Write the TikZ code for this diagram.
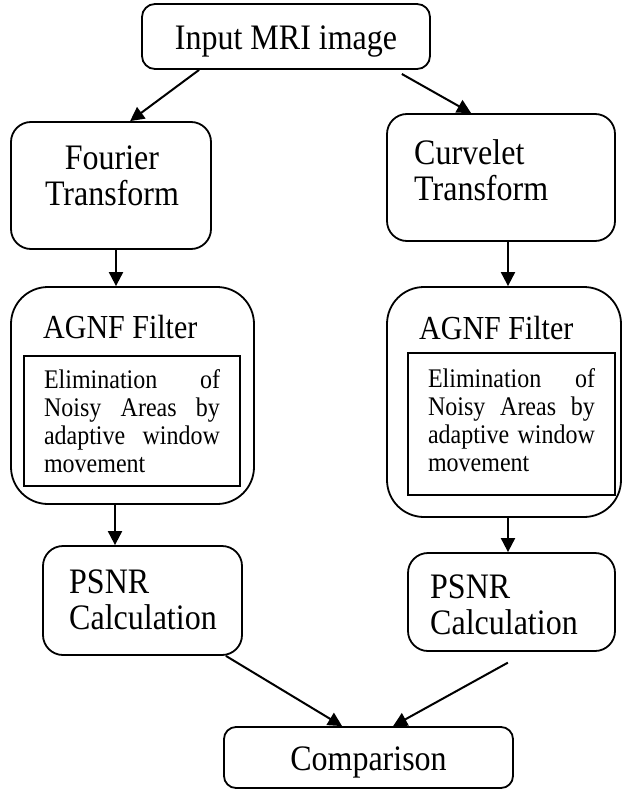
\documentclass[tikz,border=0pt]{standalone}
\usepackage{fontspec}
\setmainfont{Liberation Serif}
\usetikzlibrary{arrows.meta}

\begin{document}
\begin{tikzpicture}[x=1pt,y=1pt,yscale=-1,xscale=1,
  box/.style={draw,line width=1.8pt,rounded corners=#1,inner sep=0pt},
  arr/.style={line width=2pt,-{Triangle[length=14pt,width=14pt]}},
  bigfont/.style={font=\fontsize{32}{32.5}\selectfont},
  lbl/.style={inner sep=0pt,align=left,bigfont,yscale=1.12},
  txt/.style={draw,line width=1.8pt,inner sep=0pt,font=\fontsize{24}{25}\selectfont}]
\useasboundingbox (0,0) rectangle (622,789);

%Shape: Rounded Rect
\node[box=13pt,minimum width=288pt,minimum height=65pt,text height=30pt,text depth=4pt,bigfont] (input) at (286,36.5) {\scalebox{1}[1.12]{Input MRI image}};
%Shape: Rounded Rect
\node[box=20pt,minimum width=200pt,minimum height=127pt] (fourier) at (111,185.5) {};
%Shape: Rounded Rect
\node[box=20pt,minimum width=228pt,minimum height=127pt] (curvelet) at (501,177.5) {};
%Shape: Rounded Rect
\node[box=37pt,minimum width=243pt,minimum height=217pt] (agnfL) at (132.5,395.5) {};
%Shape: Rounded Rect
\node[box=37pt,minimum width=234pt,minimum height=230pt] (agnfR) at (504,402) {};
%Shape: Rounded Rect
\node[box=20pt,minimum width=199pt,minimum height=109pt] (psnrL) at (142.5,600.5) {};
%Shape: Rounded Rect
\node[box=20pt,minimum width=207pt,minimum height=98pt] (psnrR) at (511.5,602) {};
%Shape: Rounded Rect
\node[box=12pt,minimum width=289pt,minimum height=61pt,text height=30pt,text depth=4pt,bigfont] (comp) at (368.5,757.5) {\scalebox{1}[1.12]{Comparison}};

%Shape: Rectangle
\node[txt,minimum width=216pt,minimum height=130pt] (innerL) at (132,421) {\scalebox{1}[1.12]{\parbox{176pt}{\hyphenpenalty=10000
  Elimination of\linebreak Noisy Areas by\linebreak adaptive window\linebreak movement}}};
%Shape: Rectangle
\node[txt,minimum width=207pt,minimum height=142pt] (innerR) at (511.5,424) {\scalebox{1}[1.12]{\parbox{167pt}{\hyphenpenalty=10000
  Elimination of\linebreak Noisy Areas by\linebreak adaptive window\linebreak movement\par\vspace{7pt}}}};

% Text Node
\node[lbl,align=center,anchor=north] (fourierTxt) at (112,145.4) {Fourier\\Transform};
% Text Node
\node[lbl,anchor=north west] (curveletTxt) at (414,139.4) {Curvelet\\Transform};
% Text Node
\node[lbl,anchor=north west,font=\fontsize{30}{32}\selectfont] (agnfLTxt) at (43,315) {AGNF Filter};
% Text Node
\node[lbl,anchor=north west,font=\fontsize{30}{32}\selectfont] (agnfRTxt) at (419,316) {AGNF Filter};
% Text Node
\node[lbl,anchor=north west] (psnrLTxt) at (69,569.4) {PSNR\\Calculation};
% Text Node
\node[lbl,anchor=north west] (psnrRTxt) at (430,574.4) {PSNR\\Calculation};

%Straight Lines
\draw[arr] ([xshift=58pt]input.south west) -- ([xshift=120pt]fourier.north west);
%Straight Lines
\draw[arr,shorten <=8.3pt] ([xshift=-36.3pt]input.south east) -- ([xshift=85pt]curvelet.north west);
%Straight Lines
\draw[arr] ([xshift=5pt]fourier.south) -- ([xshift=5pt]fourier.south |- agnfL.north);
%Straight Lines
\draw[arr] ([xshift=7pt]curvelet.south) -- ([xshift=7pt]curvelet.south |- agnfR.north);
%Straight Lines
\draw[arr] ([xshift=-17.5pt]agnfL.south) -- ([xshift=-17.5pt]agnfL.south |- psnrL.north);
%Straight Lines
\draw[arr] ([xshift=4pt]agnfR.south) -- ([xshift=4pt]agnfR.south |- psnrR.north);
%Straight Lines
\draw[arr] ([xshift=-17pt]psnrL.south east) -- ([xshift=119pt]comp.north west);
%Straight Lines
\draw[arr,shorten <=22.2pt] ([xshift=15.8pt]psnrR.south) -- ([xshift=170pt]comp.north west);

\end{tikzpicture}
\end{document}
